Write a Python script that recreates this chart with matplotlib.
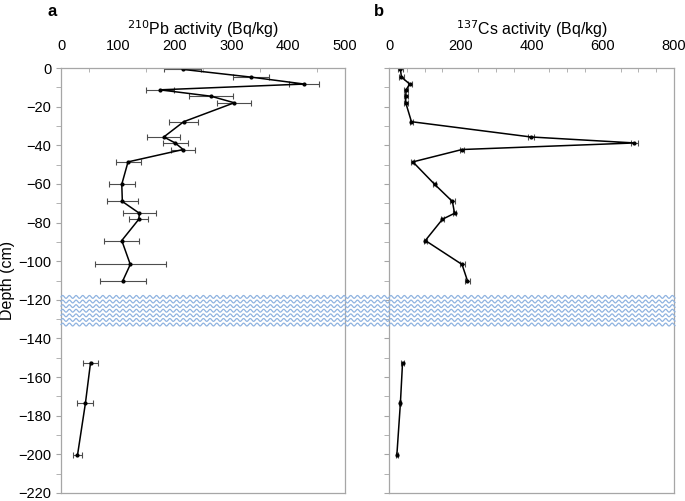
"""Down-core 210Pb and 137Cs activity profiles."""

import matplotlib

matplotlib.use("Agg")

import matplotlib.pyplot as plt
import numpy as np
from matplotlib.ticker import MultipleLocator

plt.rcParams["font.family"] = ["Liberation Sans", "DejaVu Sans"]

# upper core section (above the gap)
depth_upper = [-0.7, -4.7, -8.3, -11.3, -14.6, -18.0, -27.8, -35.7, -38.8, -42.2,
               -48.6, -60.2, -69.1, -75.2, -78.3, -89.3, -101.7, -110.0]
pb_upper = [214, 334, 428, 174, 264, 305, 216, 181, 201, 215,
            118, 107, 108, 138, 137, 107, 122, 109]
pb_upper_err = [33, 32, 26, 25, 38, 30, 26, 29, 22, 21,
                22, 23, 27, 29, 17, 31, 63, 40]
cs_upper = [32, 35, 58, 48, 47, 47, 63, 398, 689, 205,
            67, 128, 178, 184, 150, 102, 205, 220]
cs_upper_err = [6, 6, 6, 5, 5, 5, 5, 9, 9, 6,
                4, 4, 6, 5, 5, 5, 7, 6]

# lower core section (below the gap)
depth_lower = [-152.5, -173.5, -200.5]
pb_lower = [52, 43, 29]
pb_lower_err = [13, 14, 8]
cs_lower = [38, 32, 22]
cs_lower_err = [3, 3, 3]

gap_top, gap_bottom = -117.3, -134.0

fig = plt.figure(figsize=(6.85, 5.01), dpi=100)
ax_pb = fig.add_axes([61 / 685, 8 / 501, 284 / 685, 425 / 501])
ax_cs = fig.add_axes([389 / 685, 8 / 501, 285 / 685, 425 / 501])

spine_color = "#a6a6a6"
err_color = "#4d4d4d"


def _draw_profile(ax, xu, xu_err, xl, xl_err, xmax, major, label):
    for x, xerr, d in ((xu, xu_err, depth_upper), (xl, xl_err, depth_lower)):
        ax.errorbar(x, d, xerr=xerr, fmt="o-", color="black", ms=2.0, lw=1.1,
                    ecolor=err_color, elinewidth=0.8, capsize=2.5, capthick=0.8)
    ax.set_xlim(0, xmax)
    ax.set_ylim(-220, 0)
    ax.xaxis.set_major_locator(MultipleLocator(major))
    ax.xaxis.set_minor_locator(MultipleLocator(50))
    ax.yaxis.set_major_locator(MultipleLocator(20))
    ax.yaxis.set_minor_locator(MultipleLocator(10))
    ax.xaxis.tick_top()
    ax.xaxis.set_label_position("top")
    ax.tick_params(axis="x", which="both", direction="in", length=3, color=spine_color,
                   labelsize=10.5, pad=11)
    ax.tick_params(axis="x", which="major", length=0)
    ax.tick_params(axis="y", which="both", direction="out", length=3.5, color=spine_color,
                   labelsize=10.5)
    ax.set_xlabel(label, fontsize=11.5, labelpad=3)
    for spine in ax.spines.values():
        spine.set_color(spine_color)
        spine.set_linewidth(0.9)


_draw_profile(ax_pb, pb_upper, pb_upper_err, pb_lower, pb_lower_err, 500, 100,
              r"$^{210}$Pb activity (Bq/kg)")
_draw_profile(ax_cs, cs_upper, cs_upper_err, cs_lower, cs_lower_err, 800, 200,
              r"$^{137}$Cs activity (Bq/kg)")
ax_cs.tick_params(axis="y", labelleft=False)
ax_pb.set_ylabel("Depth (cm)", fontsize=11.5, labelpad=2)

# wavy band marking the core gap, spanning both panels
to_fig = lambda d: ax_pb.transData.transform((0, d))[1] / fig.bbox.height
y0, y1 = to_fig(gap_bottom), to_fig(gap_top)
x0, x1 = 61 / 685, 675 / 685
xs = np.linspace(x0, x1, 1500)
rows = 7
for k in range(rows):
    yc = y0 + (y1 - y0) * (k + 0.5) / rows
    ys = yc + 0.0028 * np.sin((xs - x0) * 685 * 2 * np.pi / 6.7)
    fig.add_artist(plt.Line2D(xs, ys, transform=fig.transFigure, color="#8fb3e0",
                              lw=0.9, zorder=5))

fig.text(47 / 685, 1 - 11 / 501, "a", fontsize=12, fontweight="bold", ha="left", va="center")
fig.text(374 / 685, 1 - 11 / 501, "b", fontsize=12, fontweight="bold", ha="left", va="center")

fig.savefig("out.png", dpi=100)
plt.close(fig)
